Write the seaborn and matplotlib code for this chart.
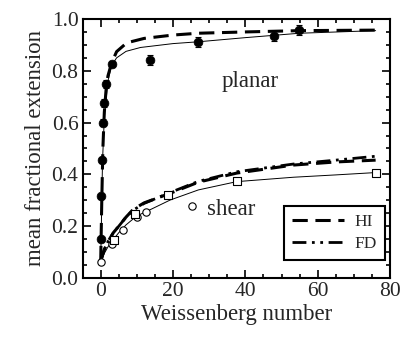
import matplotlib
matplotlib.use("Agg")
import matplotlib.pyplot as plt
import seaborn as sns
import numpy as np
import pandas as pd
from matplotlib.ticker import MultipleLocator

# ---- data ----
planar_x = [0.1, 0.2, 0.3, 0.5, 0.8, 1.5, 3.0, 13.7, 27.0, 47.8, 54.7]
planar_y = [0.15, 0.315, 0.455, 0.60, 0.675, 0.75, 0.826, 0.842, 0.91, 0.934, 0.957]
planar_err = [0.01, 0.01, 0.012, 0.012, 0.015, 0.015, 0.012, 0.02, 0.02, 0.018, 0.02]

shear_circ_x = [0.0, 3.0, 6.3, 10.0, 12.5, 25.2]
shear_circ_y = [0.062, 0.13, 0.185, 0.235, 0.254, 0.278]
shear_sq_x = [3.8, 9.5, 18.5, 37.8, 76.0]
shear_sq_y = [0.147, 0.246, 0.32, 0.374, 0.407]

planar_hi_x = [0, 0.3, 0.6, 1, 1.5, 2, 3, 4.4, 7.2, 12, 20, 27, 40, 55, 76]
planar_hi_y = [0.065, 0.30, 0.50, 0.64, 0.73, 0.78, 0.83, 0.874, 0.908, 0.925, 0.938, 0.945, 0.95, 0.955, 0.957]
planar_fit_x = [0, 0.5, 1, 2, 3, 4.4, 7, 11, 20, 27, 40, 55, 76]
planar_fit_y = [0.065, 0.45, 0.62, 0.76, 0.82, 0.85, 0.875, 0.89, 0.905, 0.912, 0.928, 0.945, 0.955]

shear_hi_x = [0, 1, 2, 3.5, 5, 7, 9, 12, 19.2, 27, 37.6, 53.3, 65, 76]
shear_hi_y = [0.065, 0.11, 0.14, 0.175, 0.20, 0.235, 0.265, 0.29, 0.327, 0.37, 0.405, 0.436, 0.448, 0.455]
shear_fd_x = [0, 1, 2, 3.5, 5, 7, 9, 12, 19.2, 27, 37.6, 53.3, 65, 76]
shear_fd_y = [0.065, 0.11, 0.14, 0.175, 0.20, 0.235, 0.262, 0.288, 0.33, 0.373, 0.41, 0.44, 0.455, 0.47]
shear_fit_x = [0, 1, 2, 3, 5, 7, 10, 12.4, 19.2, 27, 37.6, 53.3, 65, 76]
shear_fit_y = [0.062, 0.095, 0.12, 0.14, 0.175, 0.205, 0.24, 0.255, 0.301, 0.34, 0.372, 0.389, 0.398, 0.407]

xticks = [0, 20, 40, 60, 80]
yticks = [0.0, 0.2, 0.4, 0.6, 0.8, 1.0]

# ---- style ----
sns.set_style("ticks")
plt.rcParams['font.family'] = ['Liberation Serif', 'DejaVu Serif']
plt.rcParams['mathtext.fontset'] = 'stix'

fig = plt.figure(figsize=(4.03, 3.39), dpi=100)
ax = fig.add_axes([0.205, 0.18, 0.763, 0.764])

HI_DASH = (0, (5, 2.5))
FD_DASH = (0, (5, 2, 1, 2, 1, 2))

def curve(x, y, ls, lw, label=None):
    sns.lineplot(x=x, y=y, ax=ax, color='black', lw=lw, linestyle=ls,
                 label=label, sort=False, estimator=None)

curve(planar_hi_x, planar_hi_y, HI_DASH, 2.2)
curve(planar_fit_x, planar_fit_y, '-', 0.7)
curve(shear_hi_x, shear_hi_y, HI_DASH, 2.2, label='HI')
curve(shear_fd_x, shear_fd_y, FD_DASH, 2.0, label='FD')
curve(shear_fit_x, shear_fit_y, '-', 0.7)

ax.errorbar(planar_x, planar_y, yerr=planar_err, fmt='none', ecolor='black',
            elinewidth=0.8, capsize=2, capthick=0.8, zorder=3)
sns.scatterplot(x=planar_x, y=planar_y, ax=ax, color='black', s=40,
                marker='o', edgecolor='black', zorder=4, legend=False)
sns.scatterplot(x=shear_circ_x, y=shear_circ_y, ax=ax, s=28, marker='o',
                facecolor='white', edgecolor='black', linewidth=0.8, zorder=4, legend=False)
sns.scatterplot(x=shear_sq_x, y=shear_sq_y, ax=ax, s=28, marker='s',
                facecolor='white', edgecolor='black', linewidth=0.8, zorder=4, legend=False)

ax.set_xlim(-5, 80)
ax.set_ylim(0, 1.0)
ax.set_xticks(xticks)
ax.set_yticks(yticks)
ax.set_xticklabels([str(t) for t in xticks])
ax.set_yticklabels([f"{t:.1f}" for t in yticks])
ax.xaxis.set_minor_locator(MultipleLocator(5))
ax.yaxis.set_minor_locator(MultipleLocator(0.05))
ax.tick_params(which='both', direction='in', top=True, right=True, color='black', width=1.2)
ax.tick_params(which='major', length=6, labelsize=15.5, pad=3)
ax.tick_params(which='minor', length=3)
for s in ax.spines.values():
    s.set_linewidth(1.5)
    s.set_color('black')

ax.set_xlabel('Weissenberg number', fontsize=16.5, labelpad=2)
ax.set_ylabel('mean fractional extension', fontsize=16.5, labelpad=4)

ax.text(33.5, 0.76, 'planar', fontsize=16.5, ha='left', va='center')
ax.text(29.5, 0.265, 'shear', fontsize=16.5, ha='left', va='center')

leg = ax.legend(loc='lower right', bbox_to_anchor=(0.983, 0.07), fontsize=12.5,
                handlelength=3.0, frameon=True, fancybox=False, borderpad=0.45,
                labelspacing=0.35, handletextpad=0.6, borderaxespad=0)
leg.get_frame().set_edgecolor('black')
leg.get_frame().set_linewidth(1.5)
leg.get_frame().set_alpha(1)

fig.savefig('out.png', dpi=100)
